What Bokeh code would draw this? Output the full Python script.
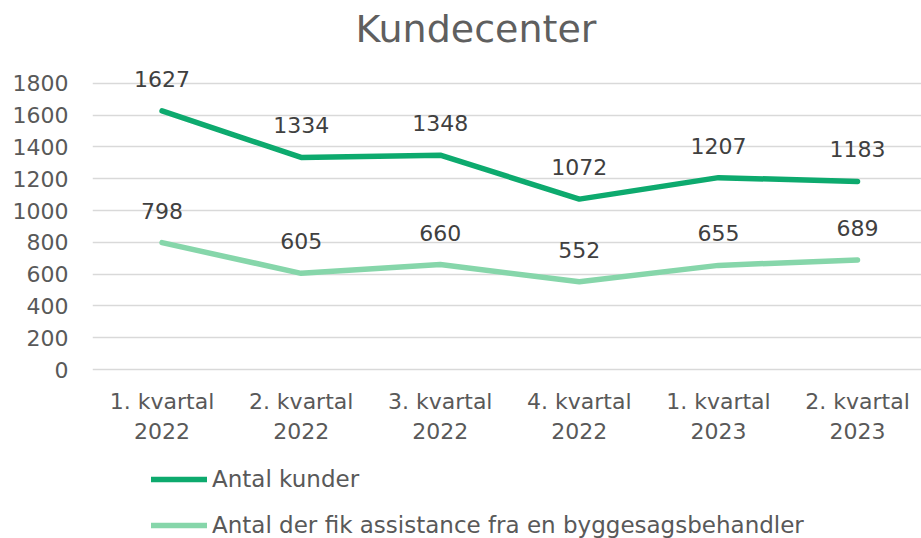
from bokeh.plotting import figure
from bokeh.models import Range1d, FixedTicker, Legend, LegendItem, ColumnDataSource, LabelSet, Title
from bokeh.core.properties import value
from bokeh.embed import file_html
from bokeh.resources import INLINE

categories = ["1. kvartal\n2022", "2. kvartal\n2022", "3. kvartal\n2022",
              "4. kvartal\n2022", "1. kvartal\n2023", "2. kvartal\n2023"]
kunder = [1627, 1334, 1348, 1072, 1207, 1183]
assistance = [798, 605, 660, 552, 655, 689]
series_names = ["Antal kunder", "Antal der fik assistance fra en byggesagsbehandler"]
y_ticks = [0, 200, 400, 600, 800, 1000, 1200, 1400, 1600, 1800]

DARK = "#0DAA6E"
LIGHT = "#86D6AA"
FONT = "DejaVu Sans"

x = list(range(len(categories)))

# frame: top 56, bottom 538; y=0 at pixel 369 (0.159 px per unit)
p = figure(width=921, height=538, output_backend="svg", toolbar_location=None,
           x_range=Range1d(-0.5, 5.46), y_range=Range1d(-1063, 1969),
           min_border_left=92, min_border_right=0, min_border_top=56,
           min_border_bottom=0)
p.outline_line_color = None
p.background_fill_color = "white"
p.border_fill_color = "white"

title = Title(text="Kundecenter", align="left", offset=263, vertical_align="middle",
              text_font=FONT, text_font_size="38px", text_font_style="normal",
              text_color="#5F5F5F", standoff=10)
p.add_layout(title, "above")

p.xgrid.visible = False
p.ygrid.grid_line_color = "#D9D9D9"
p.ygrid.grid_line_width = 1.3
p.yaxis.ticker = FixedTicker(ticks=y_ticks)
p.ygrid.ticker = FixedTicker(ticks=y_ticks)

for ax in (p.xaxis[0], p.yaxis[0]):
    ax.axis_line_color = None
    ax.major_tick_line_color = None
    ax.minor_tick_line_color = None
    ax.major_tick_out = 0
    ax.major_tick_in = 0
    ax.major_label_text_font = FONT
    ax.major_label_text_font_size = "22px"
    ax.major_label_text_color = "#595959"

p.yaxis.major_label_standoff = 24
p.xaxis.fixed_location = 0
p.xaxis.ticker = FixedTicker(ticks=x)
p.xaxis.major_label_overrides = {i: c for i, c in zip(x, categories)}
p.xaxis.major_label_standoff = 19

src = ColumnDataSource(dict(x=x, kunder=kunder, assistance=assistance,
                            kl=[str(v) for v in kunder], al=[str(v) for v in assistance]))

r1 = p.line("x", "kunder", source=src, line_color=DARK, line_width=5.5,
            line_cap="round", line_join="round")
r2 = p.line("x", "assistance", source=src, line_color=LIGHT, line_width=5.5,
            line_cap="round", line_join="round")

for col, lab in (("kunder", "kl"), ("assistance", "al")):
    ls = LabelSet(x="x", y=col, text=lab, source=src, text_align="center",
                  text_baseline="middle", y_offset=32, text_font=value(FONT),
                  text_font_size=value("22px"), text_color="#404040")
    p.add_layout(ls)

legend = Legend(items=[LegendItem(label=series_names[0], renderers=[r1]),
                       LegendItem(label=series_names[1], renderers=[r2])],
                location=(59, 0), orientation="vertical",
                label_text_font=FONT, label_text_font_size="23px",
                label_text_color="#595959", glyph_width=56, glyph_height=24,
                label_height=24, spacing=20, padding=0, margin=0,
                label_standoff=5, border_line_color=None,
                background_fill_alpha=0)
p.add_layout(legend, "center")

open("out.html", "w").write(file_html(p, INLINE))
